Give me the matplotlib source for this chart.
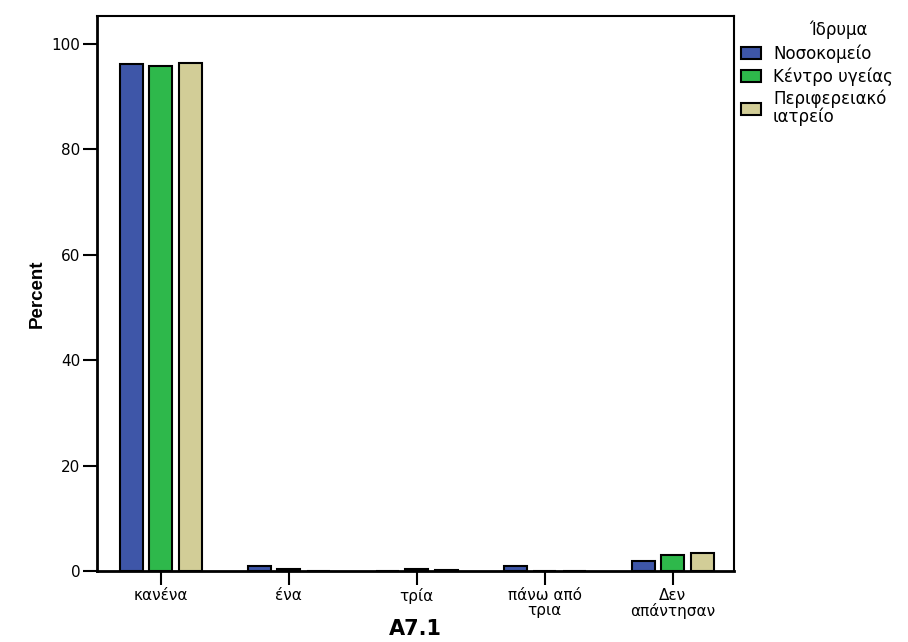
import matplotlib
matplotlib.use("Agg")
import matplotlib.pyplot as plt
import numpy as np

categories = ["κανένα", "ένα", "τρία", "πάνω από\nτρια", "Δεν\nαπάντησαν"]
series_names = ["Νοσοκομείο", "Κέντρο υγείας", "Περιφερειακό\nιατρείο"]
legend_title = "Ίδρυμα"
nosokomeio = [96.2, 0.95, 0.0, 0.95, 1.9]
kentro_ygeias = [95.8, 0.45, 0.45, 0.0, 3.0]
periferiako = [96.4, 0.0, 0.2, 0.0, 3.4]
colors = ["#3e56a8", "#2eb84b", "#d2cd97"]

plt.rcParams['font.family'] = ['DejaVu Sans']

fig = plt.figure(figsize=(9.08, 6.42), dpi=100)
ax = fig.add_axes([0.1068, 0.1106, 0.7016, 0.8645])

x = np.arange(len(categories))
offsets = [-0.23, 0.0, 0.23]
width = 0.18
handles = []
for vals, off, c, name in zip([nosokomeio, kentro_ygeias, periferiako], offsets, colors, series_names):
    h = ax.bar(x + off, vals, width=width, color=c, edgecolor="black", linewidth=1.5, label=name)
    handles.append(h)

ax.set_xlim(-0.5, 4.48)
ax.set_ylim(0, 105.3)
ax.set_yticks([0, 20, 40, 60, 80, 100])
ax.set_xticks(x)
ax.set_xticklabels(categories, fontsize=11, linespacing=1.0)
ax.tick_params(axis='y', labelsize=11, length=10, width=1.5, direction='out', pad=2)
ax.tick_params(axis='x', length=10, width=1.5, direction='out', pad=2)
ax.tick_params(top=False, right=False)
for s in ax.spines.values():
    s.set_linewidth(1.5)
    s.set_color('black')
ax.spines['left'].set_linewidth(2)
ax.spines['bottom'].set_linewidth(2)

ax.set_ylabel("Percent", fontsize=13.5, fontweight='bold', family=['Liberation Sans', 'DejaVu Sans'], labelpad=4)
ax.set_xlabel("A7.1", fontsize=15, fontweight='bold', labelpad=0)

fig.text(838 / 908, 1 - 30 / 642, legend_title, fontsize=12, ha='center', va='center')
leg = fig.legend(handles=handles, labels=series_names,
                 loc='upper left', bbox_to_anchor=(738 / 908, 1 - 41 / 642), frameon=False,
                 fontsize=12, handlelength=1.15, handleheight=0.75,
                 handletextpad=0.75, labelspacing=0.25, borderaxespad=0.0, borderpad=0.2)
for p in leg.get_patches():
    p.set_linewidth(1.5)
for t in leg.get_texts():
    t.set_linespacing(0.95)

fig.savefig("out.png", dpi=100)
